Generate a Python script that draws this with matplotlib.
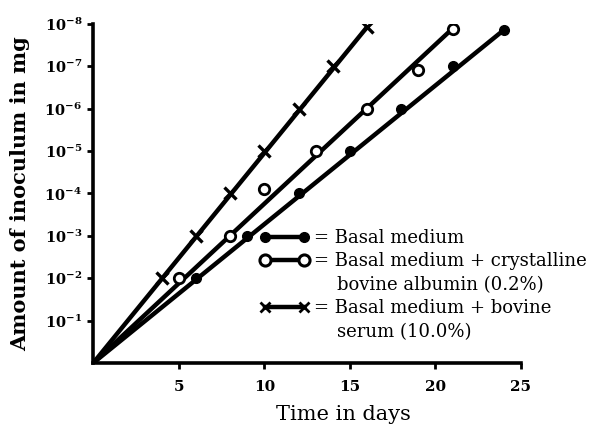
import matplotlib
matplotlib.use("Agg")
import matplotlib.pyplot as plt
from matplotlib.lines import Line2D

plt.rcParams['font.family'] = ['DejaVu Serif']
plt.rcParams['mathtext.default'] = 'regular'

# growth of inoculum: day of observation and amount (mg)
basal_days = [6, 9, 12, 15, 18, 21, 24]
basal_amount = [1e-2, 1e-3, 1e-4, 1e-5, 1e-6, 1e-7, 1.4e-8]

albumin_days = [5, 8, 10, 13, 16, 19, 21]
albumin_amount = [1e-2, 1e-3, 8e-5, 1e-5, 1e-6, 1.2e-7, 1.3e-8]

serum_days = [4, 6, 8, 10, 12, 14, 16]
serum_amount = [1e-2, 1e-3, 1e-4, 1e-5, 1e-6, 1e-7, 1.2e-8]

# straight lines drawn from the origin through the last observation
start_day, start_amount = 0, 1.0

x_ticks = [5, 10, 15, 20, 25]
y_ticks = [1e-1, 1e-2, 1e-3, 1e-4, 1e-5, 1e-6, 1e-7, 1e-8]
y_tick_labels = ['10$^{-1}$', '10$^{-2}$', '10$^{-3}$', '10$^{-4}$',
                 '10$^{-5}$', '10$^{-6}$', '10$^{-7}$', '10$^{-8}$']

fig = plt.figure(figsize=(5.94, 4.25), dpi=100)
ax = fig.add_axes([0.157, 0.146, 0.72, 0.798])

lw = 3.2
for days, amount in [(basal_days, basal_amount),
                     (albumin_days, albumin_amount),
                     (serum_days, serum_amount)]:
    ax.plot([start_day, days[-1]], [start_amount, amount[-1]],
            color='black', lw=lw, solid_capstyle='round', zorder=2)

ax.plot(basal_days, basal_amount, 'o', color='black', ms=7, zorder=3)
ax.plot(albumin_days, albumin_amount, 'o', mfc='white', mec='black',
        ms=7.5, mew=2.0, zorder=3)
ax.plot(serum_days, serum_amount, 'x', color='black', ms=8, mew=2.4, zorder=3)

ax.set_yscale('log')
ax.set_xlim(0, 25)
ax.set_ylim(1, 1e-8)
ax.set_xticks(x_ticks)
ax.set_xticklabels([str(t) for t in x_ticks])
ax.set_yticks(y_ticks)
ax.set_yticklabels(y_tick_labels)
ax.minorticks_off()

for side in ['top', 'right']:
    ax.spines[side].set_visible(False)
for side in ['left', 'bottom']:
    ax.spines[side].set_linewidth(2.6)

ax.tick_params(axis='both', length=4, width=2, direction='out', pad=4)
ax.tick_params(axis='x', labelsize=11, pad=8)
ax.tick_params(axis='y', labelsize=10.5)
for lab in ax.get_xticklabels() + ax.get_yticklabels():
    lab.set_fontweight('bold')

ax.set_xlabel('Time in days', fontsize=15, labelpad=1)
ax.xaxis.set_label_coords(0.586, -0.125)
ax.set_ylabel('Amount of inoculum in mg', fontsize=15, fontweight='bold',
              labelpad=10)

handles = [
    Line2D([], [], color='black', lw=lw, marker='o', ms=7),
    Line2D([], [], color='black', lw=lw, marker='o', mfc='white',
           mec='black', ms=8, mew=2.2),
    Line2D([], [], linestyle='none'),
    Line2D([], [], color='black', lw=lw, marker='x', ms=6.5, mew=2.0),
    Line2D([], [], linestyle='none'),
]
labels = [
    '= Basal medium',
    '= Basal medium + crystalline',
    '    bovine albumin (0.2%)',
    '= Basal medium + bovine',
    '    serum (10.0%)',
]
ax.legend(handles, labels, loc='upper left', bbox_to_anchor=(0.39, 0.395),
          frameon=False, numpoints=2, handlelength=2.75, handletextpad=0.25,
          borderpad=0, borderaxespad=0, labelspacing=0.3, fontsize=13)

fig.savefig('out.png', dpi=100)
